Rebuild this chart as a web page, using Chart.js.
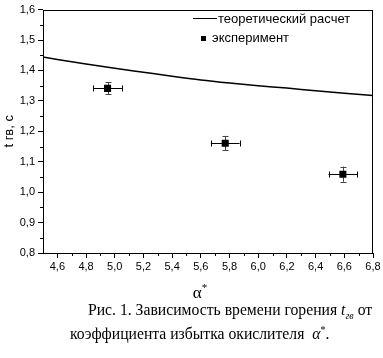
<!DOCTYPE html>
<html>
<head>
<meta charset="utf-8">
<script src="https://cdn.jsdelivr.net/npm/chart.js@4.4.1/dist/chart.umd.min.js"></script>
<style>
  body { margin: 0; background: #fff; }
  #wrap { position: relative; width: 383px; height: 358px; overflow: hidden; }
  #wrap canvas { position: absolute; left: 0; top: 0; }
  .sans { font-family: "Liberation Sans", Arial, sans-serif; color: #000; }
  .serif { font-family: "Liberation Serif", "Times New Roman", serif; color: #000; }
  .abs { position: absolute; white-space: nowrap; }
</style>
</head>
<body>
<div id="wrap">
  <canvas id="chartTgv" width="383" height="358"></canvas>

  <!-- legend -->
  <div class="abs" style="left:193px; top:18px; width:24px; height:0; border-top:1.5px solid #000;"></div>
  <div class="abs sans" style="left:218px; top:11px; font-size:13px; line-height:16px;">теоретический расчет</div>
  <div class="abs" style="left:201px; top:36px; width:5px; height:5px; background:#000;"></div>
  <div class="abs sans" style="left:212px; top:30px; font-size:13px; line-height:16px;">эксперимент</div>

  <!-- x axis title -->
  <div class="abs serif" style="left:0; width:400px; top:278px; text-align:center; font-size:17px; line-height:18px;">&alpha;<sup style="font-size:11px;">*</sup></div>

  <!-- caption -->
  <div class="abs serif" style="left:88px; top:301px; font-size:15.7px; line-height:18px;">Рис. 1. Зависимость времени горения <i>t<sub style="font-size:10px;">гв</sub></i> от</div>
  <div class="abs serif" style="left:70px; top:321px; font-size:15.7px; line-height:18px;">коэффициента избытка окислителя <i style="margin-left:4px;">&alpha;</i><sup style="font-size:10px;">*</sup>.</div>
</div>

<script>
// theoretical curve
var theoryX = [4.5, 4.8, 5.0, 5.2, 5.4, 5.6, 5.8, 6.0, 6.2, 6.4, 6.6, 6.8];
var theoryY = [1.444, 1.421, 1.407, 1.394, 1.381, 1.369, 1.359, 1.350, 1.342, 1.333, 1.325, 1.318];

// experiment points with error bars
var expX = [4.95, 5.77, 6.59];
var expY = [1.341, 1.161, 1.059];
var expXErr = [0.10, 0.10, 0.10];
var expYErr = [0.020, 0.024, 0.025];

// axis ticks
var xMajor = [4.6, 4.8, 5.0, 5.2, 5.4, 5.6, 5.8, 6.0, 6.2, 6.4, 6.6, 6.8];
var xLabels = ['4,6', '4,8', '5,0', '5,2', '5,4', '5,6', '5,8', '6,0', '6,2', '6,4', '6,6', '6,8'];
var xMinor = [4.7, 4.9, 5.1, 5.3, 5.5, 5.7, 5.9, 6.1, 6.3, 6.5, 6.7];
var yMajor = [0.8, 0.9, 1.0, 1.1, 1.2, 1.3, 1.4, 1.5, 1.6];
var yLabels = ['0,8', '0,9', '1,0', '1,1', '1,2', '1,3', '1,4', '1,5', '1,6'];
var yMinor = [0.85, 0.95, 1.05, 1.15, 1.25, 1.35, 1.45, 1.55];

var tickFont = { family: '"Liberation Sans", Arial, sans-serif', size: 11 };

// frame + minor ticks
var framePlugin = {
    id: 'frame',
    afterDraw: function(chart) {
        var ctx = chart.ctx, a = chart.chartArea;
        var xs = chart.scales.x, ys = chart.scales.y;
        ctx.save();
        ctx.strokeStyle = '#000';
        ctx.lineWidth = 1;
        ctx.strokeRect(Math.round(a.left) + 0.5, Math.round(a.top) + 0.5,
                       Math.round(a.right - a.left) - 1, Math.round(a.bottom - a.top));
        ctx.beginPath();
        xMinor.forEach(function(v) {
            var px = Math.round(xs.getPixelForValue(v)) + 0.5;
            ctx.moveTo(px, a.bottom);
            ctx.lineTo(px, a.bottom + 3);
        });
        yMinor.forEach(function(v) {
            var py = Math.round(ys.getPixelForValue(v)) + 0.5;
            ctx.moveTo(a.left, py);
            ctx.lineTo(a.left - 3, py);
        });
        ctx.stroke();
        ctx.restore();
    }
};

// error bars, drawn under the square markers
var errorBarPlugin = {
    id: 'errorBars',
    beforeDatasetsDraw: function(chart) {
        var ctx = chart.ctx;
        var xs = chart.scales.x, ys = chart.scales.y;
        ctx.save();
        ctx.lineWidth = 1;
        for (var i = 0; i < expX.length; i++) {
            var cx = xs.getPixelForValue(expX[i]);
            var cy = Math.round(ys.getPixelForValue(expY[i])) + 0.5;
            var x1 = xs.getPixelForValue(expX[i] - expXErr[i]);
            var x2 = xs.getPixelForValue(expX[i] + expXErr[i]);
            var y1 = ys.getPixelForValue(expY[i] + expYErr[i]);
            var y2 = ys.getPixelForValue(expY[i] - expYErr[i]);
            var vx = Math.round(cx) + 0.5;
            // horizontal bar
            ctx.strokeStyle = '#000';
            ctx.beginPath();
            ctx.moveTo(x1, cy); ctx.lineTo(x2, cy);
            ctx.moveTo(Math.round(x1) + 0.5, cy - 3); ctx.lineTo(Math.round(x1) + 0.5, cy + 3);
            ctx.moveTo(Math.round(x2) + 0.5, cy - 3); ctx.lineTo(Math.round(x2) + 0.5, cy + 3);
            ctx.stroke();
            // vertical bar
            ctx.strokeStyle = '#444';
            ctx.beginPath();
            ctx.moveTo(vx, y1); ctx.lineTo(vx, y2);
            ctx.moveTo(vx - 3, Math.round(y1) + 0.5); ctx.lineTo(vx + 3, Math.round(y1) + 0.5);
            ctx.moveTo(vx - 3, Math.round(y2) + 0.5); ctx.lineTo(vx + 3, Math.round(y2) + 0.5);
            ctx.stroke();
        }
        ctx.restore();
    }
};

var ctx = document.getElementById('chartTgv');
var myChartTgv = new Chart(ctx, {
    type: 'scatter',
    data: {
        datasets: [{
            label: 'теоретический расчет',
            data: theoryX.map(function(x, i) { return { x: x, y: theoryY[i] }; }),
            showLine: true,
            borderColor: '#000',
            borderWidth: 1.5,
            pointRadius: 0,
            tension: 0.4,
            cubicInterpolationMode: 'monotone'
        }, {
            label: 'эксперимент',
            data: expX.map(function(x, i) { return { x: x, y: expY[i] }; }),
            pointStyle: 'rect',
            pointRadius: 5,
            backgroundColor: '#000',
            borderColor: '#000',
            borderWidth: 0
        }]
    },
    options: {
        responsive: false,
        animation: false,
        layout: { padding: { left: 0, right: 10, top: 8, bottom: 0 } },
        plugins: {
            legend: { display: false },
            tooltip: { enabled: false }
        },
        scales: {
            x: {
                type: 'linear',
                min: 4.5,
                max: 6.8,
                afterBuildTicks: function(scale) {
                    scale.ticks = xMajor.map(function(v) { return { value: v }; });
                },
                afterFit: function(scale) { scale.height = 105; },
                ticks: {
                    autoSkip: false,
                    maxRotation: 0,
                    padding: 2,
                    color: '#000',
                    font: tickFont,
                    callback: function(val, idx) { return xLabels[idx]; }
                },
                grid: { drawOnChartArea: false, drawTicks: true, tickLength: 5, color: '#000' },
                border: { display: false }
            },
            y: {
                type: 'linear',
                min: 0.8,
                max: 1.6,
                afterBuildTicks: function(scale) {
                    scale.ticks = yMajor.map(function(v) { return { value: v }; });
                },
                afterFit: function(scale) { scale.width = 43; },
                ticks: {
                    autoSkip: false,
                    padding: 3,
                    color: '#000',
                    font: tickFont,
                    callback: function(val, idx) { return yLabels[idx]; }
                },
                title: {
                    display: true,
                    text: 't гв, с',
                    color: '#000',
                    font: { family: '"Liberation Sans", Arial, sans-serif', size: 13 },
                    padding: { top: 2, bottom: 0 }
                },
                grid: { drawOnChartArea: false, drawTicks: true, tickLength: 5, color: '#000' },
                border: { display: false }
            }
        }
    },
    plugins: [errorBarPlugin, framePlugin]
});
</script>
</body>
</html>
